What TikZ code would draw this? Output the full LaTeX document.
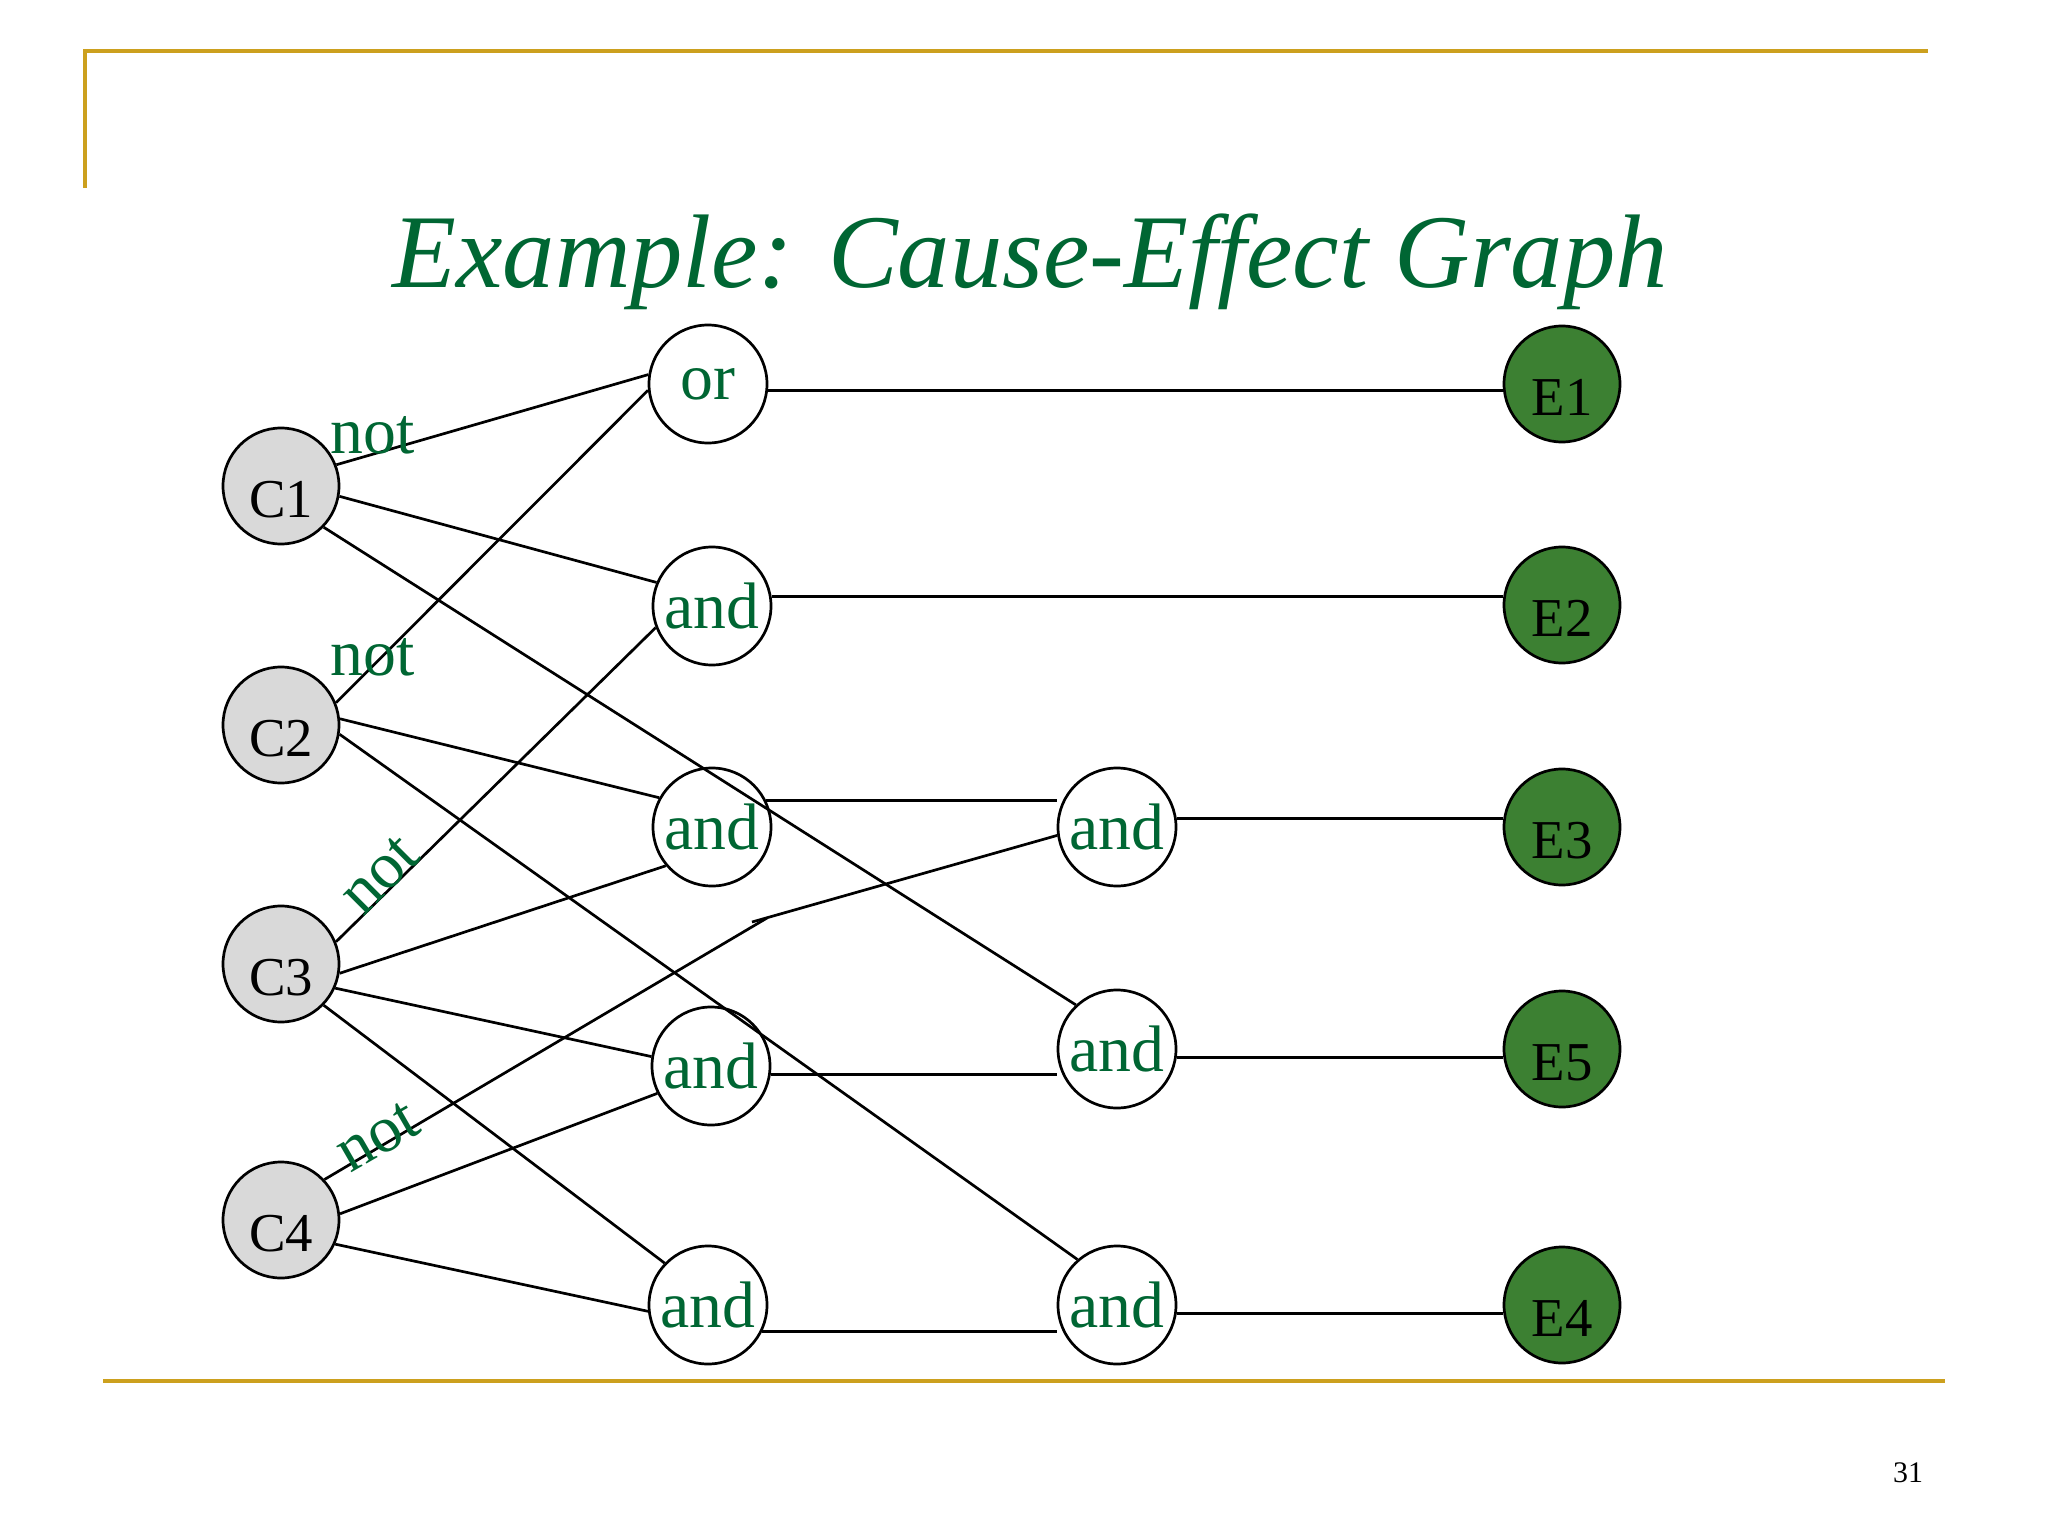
\documentclass[tikz,border=0pt]{standalone}
\usepackage{fontspec}
\setmainfont{Liberation Serif}
\definecolor{slidegreen}{RGB}{0,102,51}
\definecolor{effectgreen}{RGB}{60,128,50}
\definecolor{causegray}{RGB}{217,217,217}
\definecolor{slidegold}{RGB}{204,160,30}

\begin{document}
\begin{tikzpicture}[x=1bp, y=-1bp, line width=2.7bp,
  cause/.style={circle, draw, fill=causegray, minimum size=116bp, inner sep=0pt,
    font=\fontsize{55}{55}\selectfont, text height=62bp, text depth=0pt},
  effect/.style={cause, fill=effectgreen},
  gate/.style={circle, draw, fill=white, minimum size=118bp, inner sep=0pt,
    text=slidegreen, font=\fontsize{66}{66}\selectfont},
  notlabel/.style={text=slidegreen, font=\fontsize{66}{66}\selectfont, inner sep=0pt}]

\useasboundingbox (0,0) rectangle (2048,1536);

% The frame
\draw[slidegold, line width=4bp] (85,188) -- (85,51) -- (1928,51);
\draw[slidegold, line width=4.5bp] (103,1381) -- (1945,1381);
\node (pagenum) at (1908,1473) {\fontsize{30}{30}\selectfont 31};

% Title
\node (title) [anchor=base, text=slidegreen, font=\fontsize{105}{110}\selectfont\itshape]
  at (1030,287) {Example: Cause-Effect Graph};

% Causes
\node[cause] (C1) at (281,486) {C1};
\node[cause] (C2) at (281,725) {C2};
\node[cause] (C3) at (281,964) {C3};
\node[cause] (C4) at (281,1220) {C4};

% Gates
\node[gate] (or1) at (708,384) {or};
\node[gate] (and1) at (712,606) {and};
\node[gate] (and2) at (712,827) {and};
\node[gate] (and3) at (711,1066) {and};
\node[gate] (and4) at (708,1305) {and};
\node[gate] (and5) at (1117,827) {and};
\node[gate] (and6) at (1117,1049) {and};
\node[gate] (and7) at (1117,1305) {and};

% Effects
\node[effect] (E1) at (1562,384) {E1};
\node[effect] (E2) at (1562,605) {E2};
\node[effect] (E3) at (1562,827) {E3};
\node[effect] (E5) at (1562,1049) {E5};
\node[effect] (E4) at (1562,1305) {E4};

% The bend on the C4 line
\coordinate (bendA) at (767,918);
\coordinate (bendB) at (752,922);

% Lines from the causes
\draw (C1.21) -- (or1.171);
\draw (C1.-10) -- (and1.157);
\draw (C1.-44) -- (and6.133);
\draw (C2.22) -- (or1.186);
\draw (C2.6) -- (and2.151);
\draw (C2.-9) -- (and7.131);
\draw (C3.22) -- (and1.201);
\draw (C3.-9) -- (and2.220);
\draw (C3.-24) -- (and3.171);
\draw (C3.-44) -- (and4.136);
\draw (C4.43) -- (bendA);
\draw (bendB) -- (and5.188);
\draw (C4.6) -- (and3.207);
\draw (C4.-24) -- (and4.186);

% Lines to the effects
\draw (or1.-6) -- (or1.-6 -| E1.west);
\draw (and1.9) -- (and1.9 -| E2.west);
\draw (and2.26) -- (and2.26 -| and5.west);
\draw (and3.-8) -- (and3.-8 -| and6.west);
\draw (and4.-26) -- (and4.-26 -| and7.west);
\draw (and5.8) -- (and5.8 -| E3.west);
\draw (and6.-8) -- (and6.-8 -| E5.west);
\draw (and7.-8) -- (and7.-8 -| E4.west);

% Negations
\node[notlabel, anchor=base] (notC1) at (373,453) {not};
\node[notlabel, anchor=base] (notC2) at (373,675) {not};
\node[notlabel, rotate=45] (notC3) at (380,875) {not};
\node[notlabel, rotate=30] (notC4) at (378,1137) {not};

\end{tikzpicture}
\end{document}
